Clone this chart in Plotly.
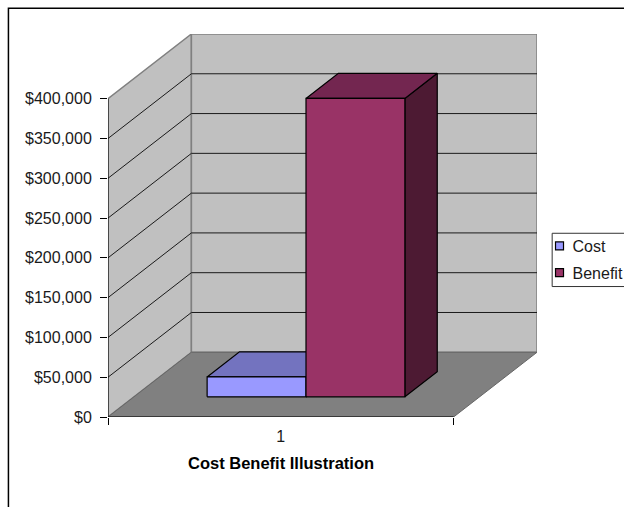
import plotly.graph_objects as go

# ---- data ----
categories = ["1"]
series_names = ["Cost", "Benefit"]
cost_values = [25000]
benefit_values = [375000]
y_ticks = [0, 50000, 100000, 150000, 200000, 250000, 300000, 350000, 400000]
x_title = "Cost Benefit Illustration"

# ---- oblique projection of the Excel-style 3D box (axis units) ----
W, H = 624, 507
L, R, T, B = 107.5, 537.5, 33.5, 417.5
PX_X = 346.0        # px per category
PX_Y = 39.95 / 50000  # px per dollar
DX = 83.5 / PX_X    # wall depth along x
DY = 65.0 / PX_Y    # wall depth along y
GAP = 0.2115
BAR_W = 99.0 / PX_X
BAR_D0 = 0.312
BAR_D1 = 0.70
YMAX = y_ticks[-1] + DY
XMAX = 1 + DX
FONT = "Liberation Sans, Arial, sans-serif"

GREY = "#808080"
WALL = "#C0C0C0"
colors = {
    "Cost": ("#9999FF", "#7373BF", "#4D4D80"),
    "Benefit": ("#993366", "#732650", "#4D1A33"),
}


def pt(x, depth, v):
    return x + depth * DX, v + depth * DY


fig = go.Figure()


def poly(points, fill=None, line="#000000", width=1.0, name=""):
    xs = [p[0] for p in points]
    ys = [p[1] for p in points]
    kw = dict(fill="toself", fillcolor=fill) if fill else {}
    fig.add_trace(go.Scatter(x=xs, y=ys, mode="lines", line=dict(color=line, width=width),
                             showlegend=False, hoverinfo="skip", name=name, **kw))


top = y_ticks[-1]
# walls and floor
poly([pt(0, 0, 0), pt(0, 0, top), pt(0, 1, top), pt(0, 1, 0), pt(0, 0, 0)], WALL, GREY, 1.5, "side wall")
poly([pt(0, 1, 0), pt(0, 1, top), pt(1, 1, top), pt(1, 1, 0), pt(0, 1, 0)], WALL, GREY, 1.5, "back wall")
poly([pt(0, 0, 0), pt(1, 0, 0), pt(1, 1, 0), pt(0, 1, 0), pt(0, 0, 0)], GREY, "#666666", 1.0, "floor")
# gridlines
for v in y_ticks[1:-1]:
    poly([pt(0, 0, v), pt(0, 1, v), pt(1, 1, v)], None, "#1a1a1a", 1.0, "grid")
# value axis line and category axis line
poly([pt(0, 0, 0), pt(0, 0, top)], None, "#000000", 1.0, "y axis")
poly([pt(0, 0, 0), pt(1, 0, 0)], None, "#000000", 1.0, "x axis")


def bar(x0, value, name):
    front, topc, side = colors[name]
    x1 = x0 + BAR_W
    d0, d1 = BAR_D0, BAR_D1
    poly([pt(x1, d0, 0), pt(x1, d1, 0), pt(x1, d1, value), pt(x1, d0, value), pt(x1, d0, 0)], side, "#000000", 1.2, name)
    poly([pt(x0, d0, value), pt(x1, d0, value), pt(x1, d1, value), pt(x0, d1, value), pt(x0, d0, value)], topc, "#000000", 1.2, name)
    poly([pt(x0, d0, 0), pt(x1, d0, 0), pt(x1, d0, value), pt(x0, d0, value), pt(x0, d0, 0)], front, "#000000", 1.2, name)


bar(GAP, cost_values[0], series_names[0])
bar(GAP + BAR_W, benefit_values[0], series_names[1])

# legend entries
for i, n in enumerate(series_names):
    fig.add_trace(go.Scatter(x=[None], y=[None], mode="markers", name=n, legendgroup=n,
                             marker=dict(symbol="square", size=8, color=colors[n][0],
                                         line=dict(color="#000000", width=1.2))))

fig.update_layout(
    width=W, height=H,
    margin=dict(l=L, r=W - R, t=T, b=H - B, autoexpand=False),
    paper_bgcolor="#FFFFFF", plot_bgcolor="#FFFFFF",
    font=dict(family=FONT, size=16, color="#1a1a1a"),
    showlegend=True,
    hovermode=False,
    legend=dict(x=(533 - L) / (R - L), xanchor="left", y=(H - 229 - (H - B)) / (B - T), yanchor="top",
                bgcolor="rgba(0,0,0,0)", borderwidth=0, tracegroupgap=3, itemclick=False, itemdoubleclick=False,
                font=dict(family=FONT, size=16, color="#1a1a1a")),
    xaxis=dict(range=[0, XMAX], tickmode="array", tickvals=[0.5], ticktext=categories, ticks="", showgrid=False,
               zeroline=False, showline=False, ticklabelstandoff=8,
               minor=dict(tickmode="array", tickvals=[0, 1], ticks="outside", ticklen=7, tickwidth=1, tickcolor="#000000", showgrid=False)),
    yaxis=dict(range=[0, YMAX], tickmode="array", tickvals=y_ticks, tickformat="$,.0f", ticks="outside", ticklen=7,
               tickwidth=1, tickcolor="#000000", showgrid=False, zeroline=False, showline=False, ticklabelstandoff=5),
    annotations=[dict(text="<b>%s</b>" % x_title, xref="x", x=0.5, yref="paper", y=(B - 464) / (B - T),
                      xanchor="center", yanchor="middle", showarrow=False,
                      font=dict(family=FONT, size=16.5, color="#000000"))],
    shapes=[
        # chart-area frame (runs off the right and bottom edges as in the reference)
        dict(type="rect", xref="paper", yref="paper",
             x0=(7.7 - L) / (R - L), x1=(640 - L) / (R - L),
             y0=(B - 520) / (B - T), y1=(B - 7.7) / (B - T),
             line=dict(color="#000000", width=1.5), fillcolor="rgba(0,0,0,0)", layer="below"),
        # legend frame
        dict(type="rect", xref="paper", yref="paper",
             x0=(552.7 - L) / (R - L), x1=(640 - L) / (R - L),
             y0=(B - 286.7) / (B - T), y1=(B - 233.3) / (B - T),
             line=dict(color="#333333", width=1), fillcolor="#FFFFFF", layer="below"),
    ],
)

post = """
document.body.style.margin='0';
document.body.style.overflow='hidden';
document.querySelectorAll('.legendsymbols').forEach(function(g){g.setAttribute('transform','translate(7,0)');});
"""
fig.write_html("out.html", post_script=post, config={"displayModeBar": False})
